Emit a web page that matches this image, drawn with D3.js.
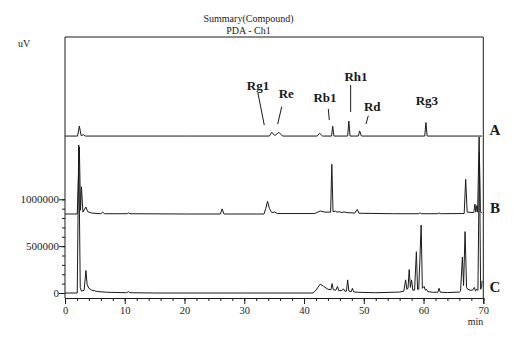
<!DOCTYPE html>
<html><head><meta charset="utf-8">
<script src="https://cdn.jsdelivr.net/npm/d3@7"></script>
<style>html,body{margin:0;padding:0;background:#fff;} svg{display:block;}</style>
</head><body><div id="chart"></div>
<script>
// ---------- data ----------
const titleLines = ["Summary(Compound)", "PDA - Ch1"];
const xUnit = "min";
const yUnit = "uV";
const traceNames = ["A", "B", "C"];
const traceOffsets = [1675000, 843000, 0];
// [time (min), signal (uV)]
const traceA = [[0,0],[2.1,0],[2.4,107000],[2.7,5000],[3.1,15000],[3.4,0],[20,0],[34.2,0],[34.6,40000],[35.1,5000],[35.8,40000],[36.4,0],[42.2,0],[42.6,30000],[43.1,0],[44.6,0],[44.8,105000],[45.0,0],[47.3,0],[47.5,160000],[47.7,0],[49.1,0],[49.3,55000],[49.6,0],[60.2,0],[60.4,145000],[60.6,0],[69.8,0]];
const traceB = [[0,0],[2.05,0],[2.4,715000],[2.6,40000],[2.75,290000],[3.0,20000],[3.5,75000],[3.8,25000],[4.5,10000],[6.0,3000],[6.3,20000],[6.6,3000],[10.4,3000],[10.6,12000],[10.9,3000],[20,0],[26.0,0],[26.3,55000],[26.6,0],[33.3,0],[33.6,60000],[33.9,135000],[34.2,60000],[34.6,15000],[35.1,22000],[35.5,5000],[41.8,5000],[42.7,32000],[43.5,20000],[44.45,20000],[44.65,530000],[44.85,25000],[45.3,30000],[45.5,20000],[46.0,25000],[46.2,15000],[46.7,22000],[47.2,15000],[48.5,10000],[48.9,48000],[49.2,8000],[55,3000],[59.2,3000],[59.4,14000],[59.6,3000],[62.4,3000],[62.6,12000],[62.8,3000],[66.8,5000],[67.05,370000],[67.3,20000],[68.4,15000],[68.6,105000],[68.75,20000],[68.9,90000],[69.05,20000],[69.3,822000],[69.5,30000],[69.8,10000]];
const traceC = [[0,0],[2.05,0],[2.3,1580000],[2.55,60000],[2.75,20000],[3.2,30000],[3.5,240000],[3.7,90000],[4.0,50000],[4.5,30000],[5.5,15000],[7,8000],[10.3,3000],[10.6,15000],[10.9,3000],[15,0],[30,0],[41.5,0],[42.0,30000],[42.7,95000],[43.3,70000],[44.0,40000],[44.5,35000],[44.7,100000],[44.9,35000],[45.3,30000],[45.6,70000],[45.8,25000],[46.3,25000],[46.6,45000],[46.8,20000],[47.1,20000],[47.3,140000],[47.5,20000],[47.9,15000],[48.1,50000],[48.3,12000],[49,8000],[52,3000],[56,10000],[56.7,20000],[57.0,140000],[57.2,40000],[57.4,50000],[57.6,250000],[57.8,60000],[58.0,140000],[58.2,30000],[58.5,30000],[58.8,440000],[59.0,40000],[59.2,40000],[59.6,725000],[59.8,50000],[60.1,70000],[60.3,30000],[60.5,40000],[60.7,15000],[61.5,8000],[62.4,8000],[62.6,50000],[62.8,8000],[64,5000],[66,10000],[66.2,20000],[66.5,385000],[66.7,80000],[66.95,655000],[67.2,60000],[67.4,40000],[67.8,30000],[68.2,30000],[68.5,60000],[68.7,20000],[68.9,40000],[69.1,30000],[69.35,1500000],[69.55,40000],[69.7,60000],[69.8,130000]];
const traces = [traceA, traceB, traceC];
const peakLabels = ["Rg1", "Re", "Rb1", "Rh1", "Rd", "Rg3"];
const peakTimes = [34.6, 35.8, 44.8, 47.5, 49.3, 60.4];
const xMajorTicks = [0, 10, 20, 30, 40, 50, 60, 70];
const yMajorTicks = [0, 500000, 1000000];

// ---------- layout ----------
const W = 529, H = 351;
const mLeft = 65, mRight = 483.3, mTop = 37, mBottom = 298;
const ink = "#1a1a1a";
// label placement relative to peak x: text dx, text baseline y, leader [dx1,y1,dx2,y2]
const labelLayout = [
  {dx:-13.8, y:90,  leader:[-13.8,93,-7.5,125]},
  {dx:7.4,   y:98,  leader:[2.8,106.7,-1.2,124]},
  {dx:-7.7,  y:102, leader:[-4.4,109,-3.4,120]},
  {dx:7.1,   y:81,  leader:[1.8,85,1.8,112]},
  {dx:12.7,  y:111, leader:[8.7,115.7,6.4,124]},
  {dx:1,     y:105, leader:null}
];

const svg = d3.select("#chart").append("svg")
  .attr("width", W).attr("height", H)
  .style("font-family", "'Liberation Serif','Times New Roman',serif");
svg.append("rect").attr("width", W).attr("height", H).attr("fill", "#fff");

const x = d3.scaleLinear().domain([0, 70]).range([mLeft, mRight]);
const y = d3.scaleLinear().domain([0, 1000000]).range([293, 199.3]);

// frame
svg.append("path")
  .attr("d", `M${mLeft},${mBottom}V${mTop}H${mRight}V${mBottom}`)
  .attr("fill", "none").attr("stroke", ink).attr("stroke-width", 1);

// x axis
const xAxisG = svg.append("g").attr("transform", `translate(0,${mBottom})`);
xAxisG.call(d3.axisBottom(x).tickValues(d3.range(0, 71, 2)).tickSize(3).tickFormat(""))
  .call(g => g.select(".domain").remove());
xAxisG.append("g").call(d3.axisBottom(x).tickValues(xMajorTicks).tickSize(6).tickPadding(3))
  .call(g => g.select(".domain").attr("stroke", ink))
  .call(g => g.selectAll("text").attr("font-size", 10.5).attr("fill", ink).attr("font-family", "'Liberation Serif',serif"));
xAxisG.selectAll("line").attr("stroke", ink);
svg.append("text").attr("x", mRight).attr("y", 325).attr("text-anchor", "end")
  .attr("font-size", 10).attr("fill", ink).text(xUnit);

// y axis
const yAxisG = svg.append("g").attr("transform", `translate(${mLeft},0)`);
yAxisG.call(d3.axisLeft(y).tickValues(d3.range(0, 1000001, 100000)).tickSize(3).tickFormat(""))
  .call(g => g.select(".domain").remove());
yAxisG.append("g").call(d3.axisLeft(y).tickValues(yMajorTicks).tickSize(6).tickPadding(0).tickFormat(d3.format("d")))
  .call(g => g.select(".domain").remove())
  .call(g => g.selectAll("text").attr("font-size", 11).attr("fill", ink).attr("font-family", "'Liberation Serif',serif"));
yAxisG.selectAll("line").attr("stroke", ink);
svg.append("text").attr("x", 18).attr("y", 47).attr("font-size", 10).attr("fill", ink).text(yUnit);

// title
svg.selectAll("text.title").data(titleLines).join("text").attr("class", "title")
  .attr("x", 248.5).attr("y", (d, i) => 22 + i * 12).attr("text-anchor", "middle")
  .attr("font-size", 10).attr("fill", ink).text(d => d);

// traces
const line = d3.line().x(d => x(d[0]));
traces.forEach((tr, i) => {
  svg.append("path").datum(tr)
    .attr("d", line.y(d => y(d[1] + traceOffsets[i])))
    .attr("fill", "none").attr("stroke", ink).attr("stroke-width", 1)
    .attr("stroke-linejoin", "round");
  svg.append("text").attr("x", 495).attr("y", y(traceOffsets[i]) - 1)
    .attr("text-anchor", "middle").attr("font-size", 15).attr("font-weight", "bold")
    .attr("fill", ink).text(traceNames[i]);
});

// peak labels on trace A
peakLabels.forEach((lab, i) => {
  const px = x(peakTimes[i]);
  const L = labelLayout[i];
  svg.append("text").attr("x", px + L.dx).attr("y", L.y).attr("text-anchor", "middle")
    .attr("font-size", 13).attr("font-weight", "bold").attr("fill", ink).text(lab);
  if (L.leader) {
    svg.append("line").attr("x1", px + L.leader[0]).attr("y1", L.leader[1])
      .attr("x2", px + L.leader[2]).attr("y2", L.leader[3])
      .attr("stroke", ink).attr("stroke-width", 1);
  }
});
</script></body></html>
